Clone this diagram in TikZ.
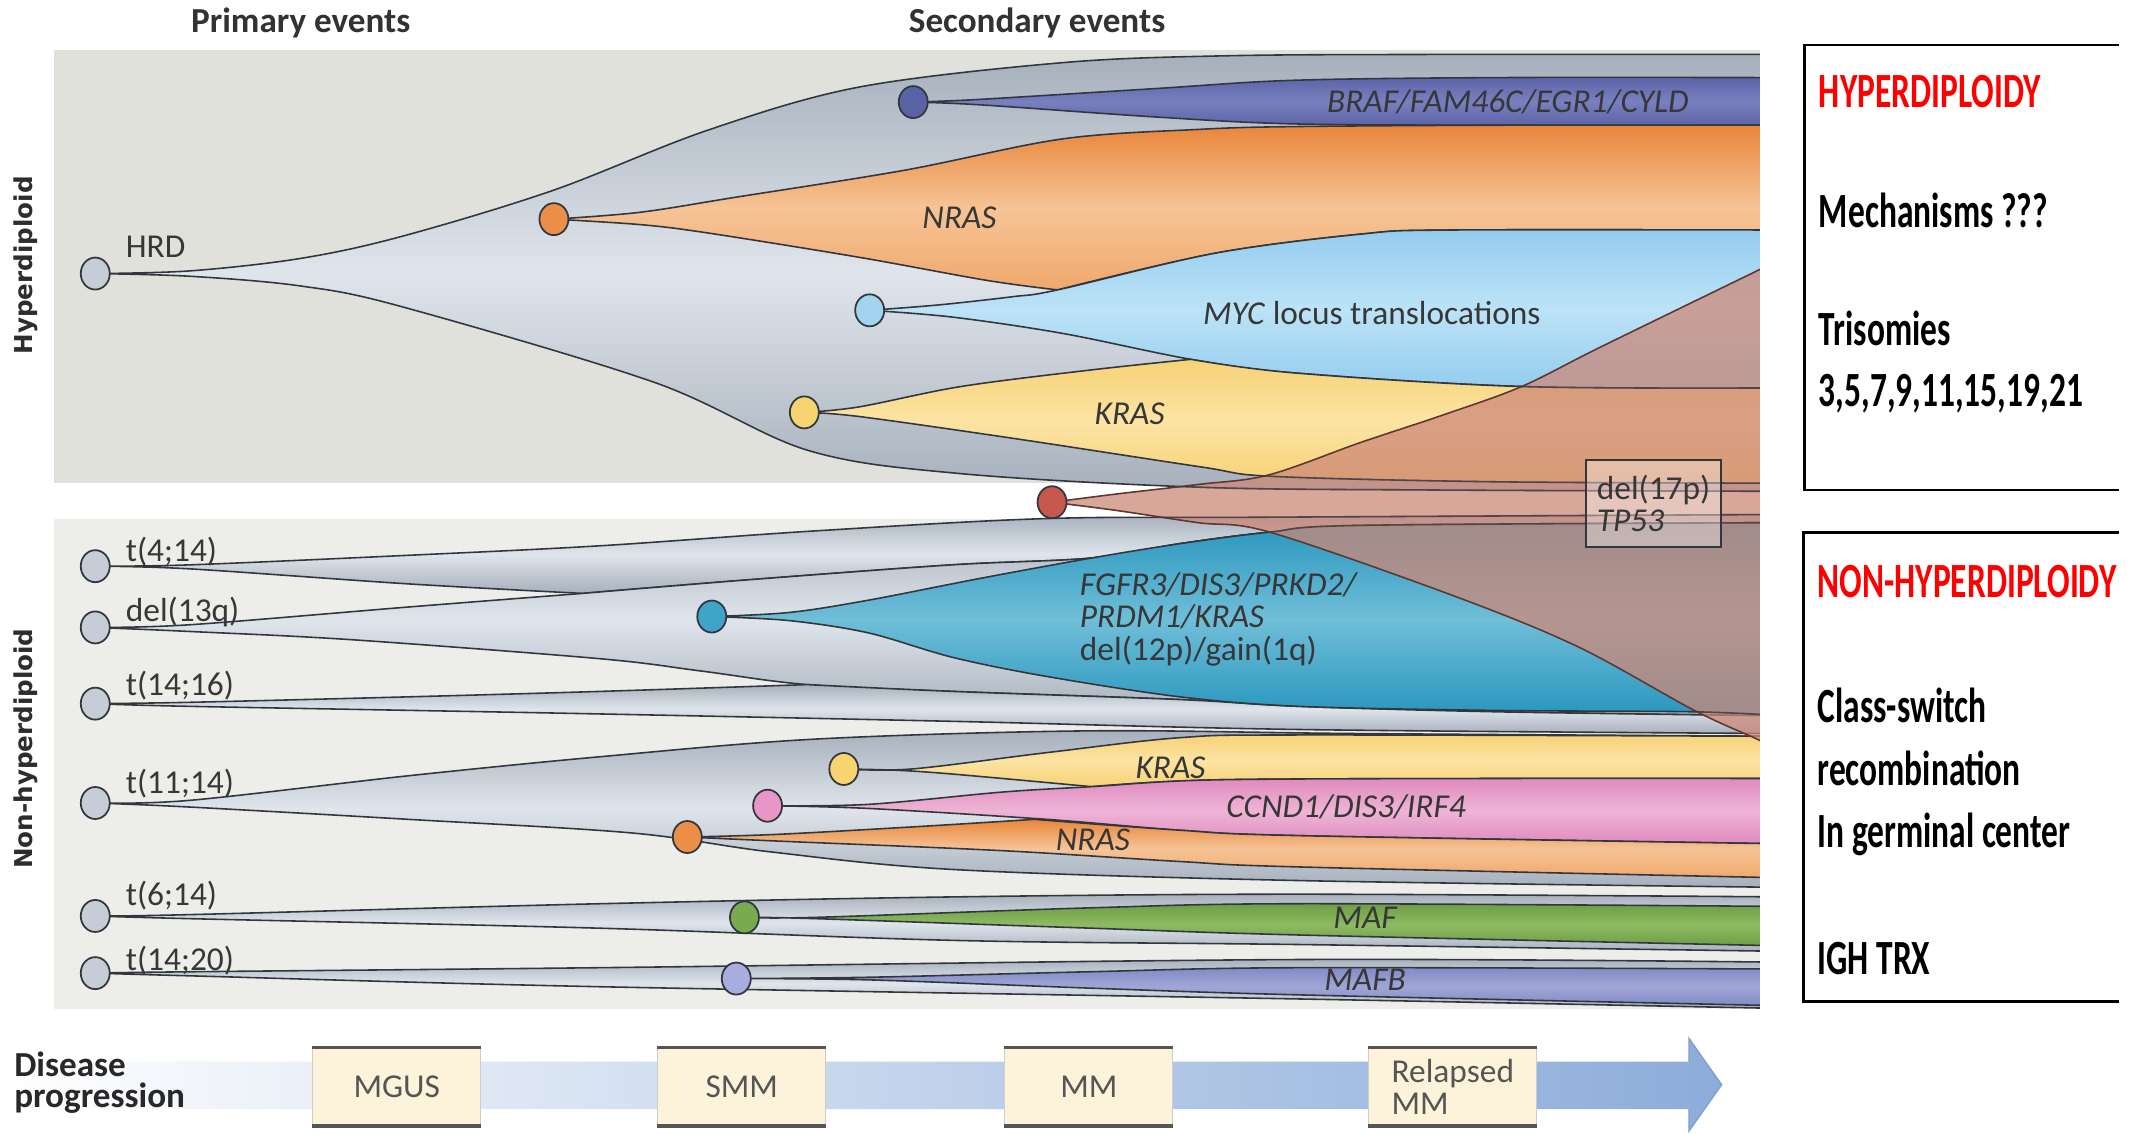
\documentclass[tikz,border=0pt]{standalone}
\usepackage{fontspec}
\setmainfont{Carlito}
\newfontfamily\boxfont{Carlito}[FakeStretch=0.68]
\newfontfamily\vfont{DejaVu Sans}
\usetikzlibrary{shapes.geometric}
\definecolor{edgec}{RGB}{50,55,62}
\definecolor{gdark}{RGB}{166,176,188}
\definecolor{glight}{RGB}{224,229,236}
\definecolor{panelA}{RGB}{225,225,220}
\definecolor{panelB}{RGB}{237,237,233}
\definecolor{labc}{RGB}{55,55,55}
\definecolor{orD}{RGB}{232,133,58}
\definecolor{orM}{RGB}{246,196,150}
\definecolor{orB}{RGB}{240,168,108}
\definecolor{brafD}{RGB}{92,100,168}
\definecolor{brafM}{RGB}{120,128,192}
\definecolor{mycD}{RGB}{148,204,238}
\definecolor{mycM}{RGB}{188,227,247}
\definecolor{krD}{RGB}{247,210,118}
\definecolor{krM}{RGB}{252,228,164}
\definecolor{tealD}{RGB}{40,150,190}
\definecolor{tealM}{RGB}{112,190,216}
\definecolor{pinkD}{RGB}{224,138,190}
\definecolor{pinkM}{RGB}{238,180,214}
\definecolor{grnD}{RGB}{108,158,68}
\definecolor{grnM}{RGB}{142,186,98}
\definecolor{mafbD}{RGB}{128,138,198}
\definecolor{mafbM}{RGB}{160,166,214}
\definecolor{fanc}{RGB}{205,136,120}
\definecolor{cream}{RGB}{253,243,218}
\definecolor{arrowc}{RGB}{140,172,218}
\begin{document}
\begin{tikzpicture}[x=0.01361cm,y=-0.01361cm,
  sm/.style={smooth,tension=0.55},
  clone/.style={draw=edgec,line width=0.45pt},
  grayclone/.style={clone,top color=gdark,bottom color=gdark,middle color=glight},
  colclone/.style 2 args={clone,top color=#1,bottom color=#1,middle color=#2},
  fan/.style={draw={rgb,255:red,95;green,55;blue,50},line width=0.45pt,fill=fanc,fill opacity=0.74},
  fanline/.style={draw=edgec,line width=0.45pt,draw opacity=0.75},
  dot/.style={ellipse,draw=edgec,line width=0.5pt,minimum width=0.29cm,minimum height=0.32cm,inner sep=0pt},
  lab/.style={font=\fontsize{9.5}{11}\selectfont,text=labc,inner sep=0pt},
  boxtxt/.style={font=\boxfont\bfseries\fontsize{14}{16}\selectfont,inner sep=0pt,anchor=base west},
  progtxt/.style={font=\bfseries\fontsize{10}{12}\selectfont,text={rgb,255:red,40;green,40;blue,40},inner sep=0pt,anchor=base west},
  headtxt/.style={font=\bfseries\fontsize{10}{12}\selectfont,text={rgb,255:red,50;green,50;blue,50},inner sep=0pt},
  progbox/.style={fill=cream,draw={rgb,255:red,205;green,205;blue,205},line width=0.3pt,minimum width=1.68cm,minimum height=0.776cm,inner sep=1pt,font=\fontsize{9.5}{9}\selectfont,text={rgb,255:red,85;green,85;blue,85},align=left},
  vlab/.style={font=\vfont\bfseries\fontsize{7}{8}\selectfont,text={rgb,255:red,45;green,45;blue,45},rotate=90,inner sep=0pt}
]
\useasboundingbox (0,0) rectangle (1568,833);
\fill[white] (0,0) rectangle (1568,833);
% panels
\fill[panelA] (40,37) rectangle (1293,355);
\fill[panelB] (40,381) rectangle (1293,741);

\begin{scope}
\clip (0,0) rectangle (1293,833);
% ---------- top panel ----------
\path[grayclone] plot[sm] coordinates {(70,201) (140,199) (220,190) (294,174) (406,140) (519,96) (631,64) (781,46) (900,41) (1050,40) (1310,40)} -- plot[sm] coordinates {(1310,361) (1050,360) (882,358) (706,348) (594,331) (481,281) (294,225) (220,210) (140,203) (70,201)} -- cycle;
% BRAF
\path[colclone={brafD}{brafM}] plot[sm] coordinates {(671,75) (720,73) (850,65) (950,59) (1100,57) (1310,57)} -- plot[sm] coordinates {(1310,92) (1100,92) (950,91) (850,86) (720,77) (671,75)} -- cycle;
% NRAS
\path[clone,top color=orD,bottom color=orB,middle color=orM] plot[sm] coordinates {(407,161) (470,156) (540,145) (665,125) (781,102) (882,95) (951,93) (1100,92) (1310,92)} -- plot[sm] coordinates {(1310,169) (1066,169) (1000,172) (893,186) (777,213)} -- plot[sm] coordinates {(777,213) (725,206) (631,189) (519,171) (470,165) (407,161)} -- cycle;
% MYC
\path[colclone={mycD}{mycM}] plot[sm] coordinates {(639,228) (690,224) (744,218) (777,213) (893,186) (1000,172) (1066,169) (1310,169)} -- plot[sm] coordinates {(1310,285) (1118,284) (951,274) (875,264) (781,245) (700,233) (639,228)} -- cycle;
% KRAS
\path[colclone={krD}{krM}] plot[sm] coordinates {(591,303) (631,299) (706,284) (800,272) (875,264)} -- plot[sm] coordinates {(875,264) (951,274) (1118,284) (1310,285)} -- plot[sm] coordinates {(1310,355) (1100,354) (935,350) (882,343) (744,322) (631,306) (591,303)} -- cycle;

% ---------- bottom panel ----------
% t(4;14)
\path[grayclone] plot[sm] coordinates {(70,416) (140,415) (300,408) (441,401) (600,390) (769,381) (933,380) (1310,378)} -- plot[sm] coordinates {(1310,384) (1000,386) (933,391) (870,399) (802,410) (700,415) (550,426) (428,436)} -- plot[sm] coordinates {(428,436) (300,429) (140,418) (70,416)} -- cycle;
% del(13q)
\path[grayclone] plot[sm] coordinates {(70,461) (140,459) (300,446) (428,436)} -- plot[sm] coordinates {(428,436) (550,426) (700,415) (802,410) (870,399) (933,391) (1000,386) (1310,384)} -- plot[sm] coordinates {(1310,526) (1100,523) (955,519) (867,514) (700,508) (593,503) (515,493) (441,484) (258,470) (140,464) (70,461)} -- cycle;
% t(14;16)
\path[grayclone] plot[sm] coordinates {(70,517) (140,516) (300,512) (441,508) (593,503)} -- plot[sm] coordinates {(593,503) (700,508) (867,514) (955,519) (1100,523) (1310,526)} -- plot[sm] coordinates {(1310,539) (955,536) (700,530) (412,524) (140,519) (70,517)} -- cycle;
% t(11;14)
\path[grayclone] plot[sm] coordinates {(70,590) (140,588) (300,570) (441,556) (600,543) (800,537) (1000,539) (1310,541)} -- plot[sm] coordinates {(1310,652) (955,647) (703,639) (567,626) (464,612) (300,602) (140,593) (70,590)} -- cycle;
% t(6;14)
\path[grayclone] plot[sm] coordinates {(70,673) (140,672) (441,664) (700,659) (955,657) (1310,659)} -- plot[sm] coordinates {(1310,699) (955,694) (703,691) (441,682) (140,675) (70,673)} -- cycle;
% t(14;20)
\path[grayclone] plot[sm] coordinates {(70,715) (140,714) (441,711) (955,705) (1310,707)} -- plot[sm] coordinates {(1310,741) (955,734) (441,725) (140,717) (70,715)} -- cycle;
% FGFR3 teal
\path[colclone={tealD}{tealM}] plot[sm] coordinates {(523,453) (580,450) (638,441) (720,425) (802,410) (870,399) (933,391) (1000,386) (1310,384)} -- plot[sm] coordinates {(1310,526) (1245,523) (1100,522) (955,519) (867,512) (769,497) (700,483) (638,465) (580,456) (523,453)} -- cycle;
% KRAS (t11;14)
\path[colclone={krD}{krM}] plot[sm] coordinates {(620,565) (670,565) (769,553) (867,542) (955,540) (1310,541)} -- plot[sm] coordinates {(1310,572) (1100,572) (893,573) (802,578)} -- plot[sm] coordinates {(802,578) (703,569) (660,566) (620,565)} -- cycle;
% CCND1
\path[colclone={pinkD}{pinkM}] plot[sm] coordinates {(564,592) (638,591) (736,582) (802,578) (893,573) (1100,572) (1310,572)} -- plot[sm] coordinates {(1310,620) (955,614) (867,610) (769,602) (638,594) (564,592)} -- cycle;
% NRAS (t11;14)
\path[clone,top color=orD,bottom color=orB,middle color=orM] plot[sm] coordinates {(505,615) (572,613) (680,607) (760,602)} -- plot[sm] coordinates {(760,602) (867,610) (955,614) (1310,620)} -- plot[sm] coordinates {(1310,645) (955,637) (867,633) (736,625) (572,618) (505,615)} -- cycle;
% MAF
\path[colclone={grnD}{grnM}] plot[sm] coordinates {(547,674) (600,674) (802,667) (955,664) (1310,666)} -- plot[sm] coordinates {(1310,695) (955,687) (802,682) (600,675) (547,674)} -- cycle;
% MAFB
\path[colclone={mafbD}{mafbM}] plot[sm] coordinates {(541,719) (640,718) (800,714) (955,711) (1310,712)} -- plot[sm] coordinates {(1310,739) (955,731) (800,726) (640,720) (541,719)} -- cycle;

% ---------- del(17p) fan ----------
\path[fan] plot[sm] coordinates {(773,369) (820,363) (880,356) (932,349) (1000,325) (1060,305) (1118,284) (1176,255) (1293,198) (1330,180)} -- plot[sm] coordinates {(1330,562) (1293,544) (1245,522) (1159,475) (1066,437) (933,391) (880,384) (820,375) (773,369)} -- cycle;
% band boundaries seen through the fan
\begin{scope}
\clip plot[sm] coordinates {(773,369) (820,363) (880,356) (932,349) (1000,325) (1060,305) (1118,284) (1176,255) (1293,198) (1330,180)} -- plot[sm] coordinates {(1330,562) (1293,544) (1245,522) (1159,475) (1066,437) (933,391) (880,384) (820,375) (773,369)} -- cycle;
\draw[fanline] plot[sm] coordinates {(1310,285) (1118,284) (951,274) (875,264) (781,245) (700,233) (639,228)};
\draw[fanline] plot[sm] coordinates {(1310,355) (1100,354) (935,350) (882,343) (744,322) (631,306) (591,303)};
\draw[fanline] plot[sm] coordinates {(1310,361) (1050,360) (882,358) (706,348) (594,331) (481,281) (294,225) (220,210) (140,203) (70,201)};
\draw[fanline] plot[sm] coordinates {(70,416) (140,415) (300,408) (441,401) (600,390) (769,381) (933,380) (1310,378)};
\draw[fanline] plot[sm] coordinates {(523,453) (580,450) (638,441) (720,425) (802,410) (870,399) (933,391) (1000,386) (1310,384)};
\draw[fanline] plot[sm] coordinates {(1310,526) (1245,523) (1100,522) (955,519) (867,512) (769,497) (700,483) (638,465) (580,456) (523,453)};
\end{scope}
\end{scope}

% ---------- clone nodes ----------
\foreach \n/\p in {hrd/{(70,201)},t414/{(70,416)},d13/{(70,461)},t1416/{(70,517)},t1114/{(70,590)},t614/{(70,673)},t1420/{(70,715)}}
  \node[dot,fill={rgb,255:red,198;green,205;blue,215}] (\n) at \p {};
\node[dot,fill={rgb,255:red,88;green,98;blue,165}] (braf) at (671,75) {};
\node[dot,fill={rgb,255:red,234;green,142;blue,72}] (nras) at (407,161) {};
\node[dot,fill={rgb,255:red,162;green,212;blue,240}] (myc) at (639,228) {};
\node[dot,fill={rgb,255:red,248;green,212;blue,112}] (kras) at (591,303) {};
\node[dot,fill={rgb,255:red,198;green,88;blue,78}] (p53) at (773,369) {};
\node[dot,fill={rgb,255:red,62;green,165;blue,200}] (fgfr) at (523,453) {};
\node[dot,fill={rgb,255:red,248;green,212;blue,112}] (kras2) at (620,565) {};
\node[dot,fill={rgb,255:red,232;green,150;blue,200}] (ccnd) at (564,592) {};
\node[dot,fill={rgb,255:red,234;green,142;blue,72}] (nras2) at (505,615) {};
\node[dot,fill={rgb,255:red,122;green,170;blue,80}] (maf) at (547,674) {};
\node[dot,fill={rgb,255:red,168;green,172;blue,222}] (mafb) at (541,719) {};

% ---------- labels ----------
\node[lab,anchor=west] (lhrd) at (92,181) {HRD};
\node[lab,anchor=west] (l1) at (92,405) {t(4;14)};
\node[lab,anchor=west] (l2) at (92,450) {del(13q)};
\node[lab,anchor=west] (l3) at (92,504) {t(14;16)};
\node[lab,anchor=west] (l4) at (92,576) {t(11;14)};
\node[lab,anchor=west] (l5) at (92,658) {t(6;14)};
\node[lab,anchor=west] (l6) at (92,706) {t(14;20)};
\node[lab] (lbraf) at (1108,75) {\itshape BRAF/FAM46C/EGR1/CYLD};
\node[lab] (lnras) at (705,160) {\itshape NRAS};
\node[lab] (lmyc) at (1008,230) {\textit{MYC} locus translocations};
\node[lab] (lkras) at (830,304) {\itshape KRAS};
\node[lab,anchor=west,align=left,font=\fontsize{9.5}{9.2}\selectfont] (lfgfr) at (793,455) {\textit{FGFR3/DIS3/PRKD2/}\\\textit{PRDM1/KRAS}\\del(12p)/gain(1q)};
\node[lab] (lkras2) at (860,564) {\itshape KRAS};
\node[lab] (lccnd) at (989,593) {\itshape CCND1/DIS3/IRF4};
\node[lab] (lnras2) at (803,617) {\itshape NRAS};
\node[lab] (lmaf) at (1003,674) {\itshape MAF};
\node[lab] (lmafb) at (1003,720) {\itshape MAFB};
\node[lab,draw=edgec,line width=0.45pt,fill=white,fill opacity=0.35,text opacity=1,minimum width=1.347cm,minimum height=0.871cm,align=left,font=\fontsize{9.5}{9.2}\selectfont] (l17p) at (1215,370) {del(17p)\\\textit{TP53}};

% headers
\node[headtxt] (hprim) at (221,17) {Primary events};
\node[headtxt] (hsec) at (762,17) {Secondary events};
\node[vlab] (vh) at (19,195) {Hyperdiploid};
\node[vlab] (vn) at (19,550) {Non-hyperdiploid};

% ---------- right boxes ----------
\draw[line width=0.8pt] (1557,33) -- (1326,33) -- (1326,360) -- (1557,360);
\draw[line width=0.8pt] (1557,391) -- (1325,391) -- (1325,736) -- (1557,736);
\node[boxtxt,text=red] (b1) at (1336,79) {HYPERDIPLOIDY};
\node[boxtxt] (b2) at (1336,167) {Mechanisms ???};
\node[boxtxt] (b3) at (1336,254) {Trisomies};
\node[boxtxt] (b4) at (1336,299) {3,5,7,9,11,15,19,21};
\node[boxtxt,text=red] (b5) at (1335,439) {NON-HYPERDIPLOIDY};
\node[boxtxt] (b6) at (1335,531) {Class-switch};
\node[boxtxt] (b7) at (1335,577) {recombination};
\node[boxtxt] (b8) at (1335,623) {In germinal center};
\node[boxtxt] (b9) at (1335,716) {IGH TRX};

% ---------- disease progression ----------
\shade[left color=white,right color=arrowc] (0,780) -- (1241,780) -- (1241,763) -- (1265,797) -- (1241,831) -- (1241,815) -- (0,815) -- cycle;
\draw[draw={rgb,255:red,130;green,160;blue,205},line width=0.4pt] (1241,780) -- (1241,763) -- (1265,797) -- (1241,831) -- (1241,815);
\node[progtxt] (dp1) at (10,791) {Disease};
\node[progtxt] (dp2) at (10,814) {progression};
\node[progbox] (mgus) at (291.5,798.5) {MGUS};
\node[progbox] (smm) at (545,798.5) {SMM};
\node[progbox] (mm) at (800,798.5) {MM};
\node[progbox] (rmm) at (1067.5,798.5) {Relapsed\\MM};
\foreach \b in {mgus,smm,mm,rmm}{
  \draw[line width=1pt,draw={rgb,255:red,85;green,85;blue,85}] (\b.north west) -- (\b.north east);
  \draw[line width=1pt,draw={rgb,255:red,85;green,85;blue,85}] (\b.south west) -- (\b.south east);
}
\end{tikzpicture}
\end{document}
